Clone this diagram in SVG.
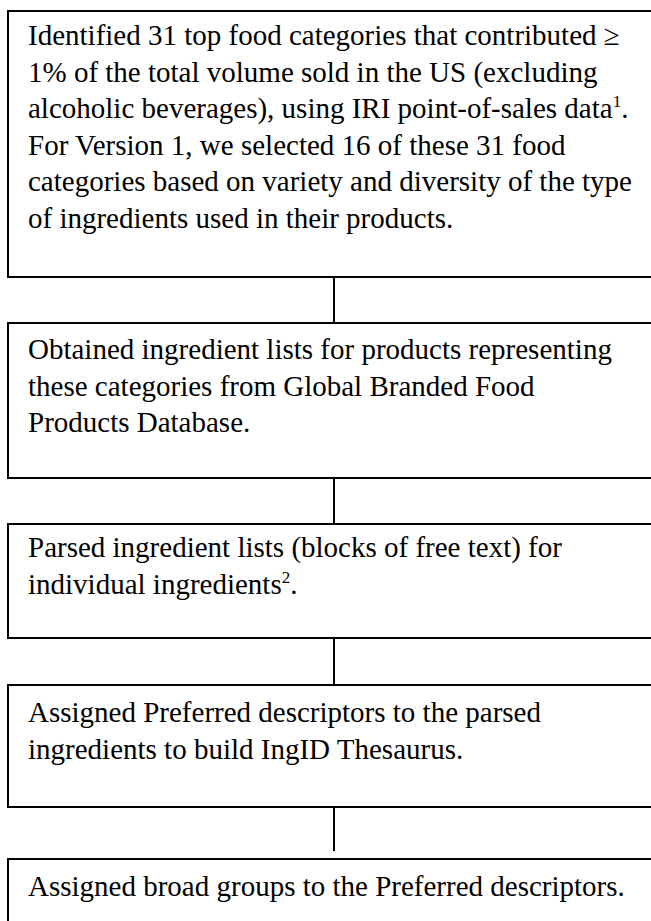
<svg xmlns="http://www.w3.org/2000/svg" width="651" height="921" viewBox="0 0 651 921">
<style>
.box{fill:#fff;stroke:#000;stroke-width:2}
.t{font-family:"Liberation Serif","Times New Roman",serif;font-size:29px;fill:#000}
.sup{font-size:17px}
.c{stroke:#000;stroke-width:2;fill:none}
</style>
<rect width="651" height="921" fill="#fff"/>
<g id="connectors">
<line class="c" x1="334" y1="277" x2="334" y2="323"/>
<line class="c" x1="334" y1="478" x2="334" y2="524"/>
<line class="c" x1="334" y1="638" x2="334" y2="685"/>
<line class="c" x1="334" y1="804" x2="334" y2="851"/>
</g>
<g id="node1">
<rect class="box" x="8" y="11" width="660" height="266"/>
<text class="t" x="28" y="45">Identified 31 top food categories that contributed ≥</text>
<text class="t" x="28" y="81.5">1% of the total volume sold in the US (excluding</text>
<text class="t" x="28" y="118">alcoholic beverages), using IRI point-of-sales data<tspan class="sup" dy="-11">1</tspan><tspan dy="11">.</tspan></text>
<text class="t" x="28" y="154.5">For Version 1, we selected 16 of these 31 food</text>
<text class="t" x="28" y="191">categories based on variety and diversity of the type</text>
<text class="t" x="28" y="227.5">of ingredients used in their products.</text>
</g>
<g id="node2">
<rect class="box" x="8" y="323" width="660" height="155"/>
<text class="t" x="28" y="359">Obtained ingredient lists for products representing</text>
<text class="t" x="28" y="395.5">these categories from Global Branded Food</text>
<text class="t" x="28" y="432">Products Database.</text>
</g>
<g id="node3">
<rect class="box" x="8" y="524" width="660" height="114"/>
<text class="t" x="28" y="557">Parsed ingredient lists (blocks of free text) for</text>
<text class="t" x="28" y="593.5">individual ingredients<tspan class="sup" dy="-11">2</tspan><tspan dy="11">.</tspan></text>
</g>
<g id="node4">
<rect class="box" x="8" y="685" width="660" height="122"/>
<text class="t" x="28" y="722">Assigned Preferred descriptors to the parsed</text>
<text class="t" x="28" y="758.5">ingredients to build IngID Thesaurus.</text>
</g>
<g id="node5">
<rect class="box" x="8" y="859" width="660" height="80"/>
<text class="t" x="28" y="896">Assigned broad groups to the Preferred descriptors.</text>
</g>
</svg>
